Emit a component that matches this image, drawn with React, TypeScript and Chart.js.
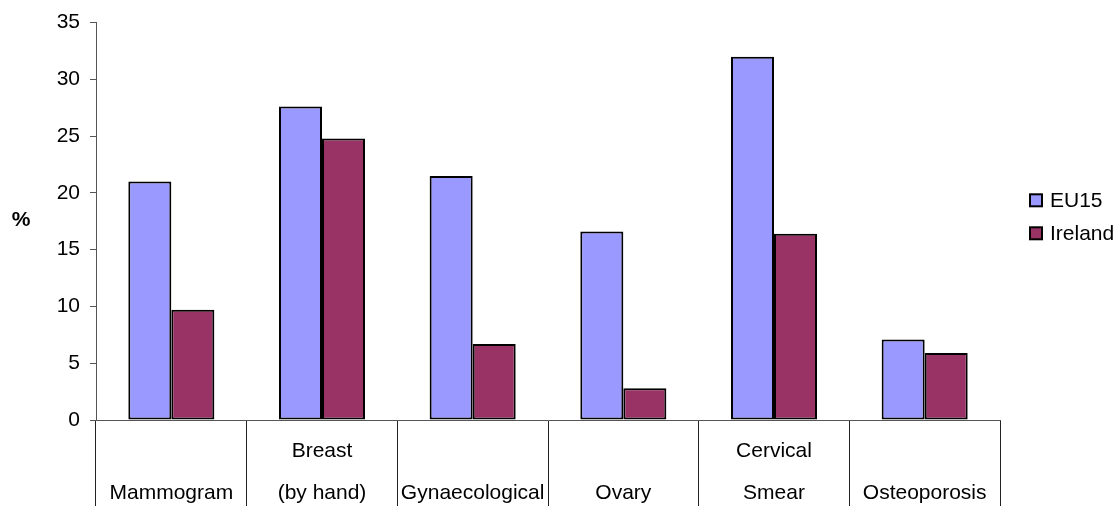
import React, { useEffect, useRef } from 'react';
import { Chart, registerables } from 'chart.js';

Chart.register(...registerables);

const categories: string[][] = [
  ['', 'Mammogram'],
  ['Breast', '(by hand)'],
  ['', 'Gynaecological'],
  ['', 'Ovary'],
  ['Cervical', 'Smear'],
  ['', 'Osteoporosis'],
];
const seriesNames = ['EU15', 'Ireland'];
const eu15Values = [21, 27.6, 21.5, 16.6, 32, 7.1];
const irelandValues = [9.7, 24.8, 6.7, 2.8, 16.4, 5.9];
const yMin = 0;
const yMax = 35;
const yStep = 5;
const yAxisTitle = '%';

const FONT = "Arial, 'Liberation Sans', sans-serif";

const legendPlugin = {
  id: 'customLegend',
  afterDraw(chart: any) {
    const { ctx, chartArea } = chart;
    const x = chartArea.right + 30;
    const midY = (chartArea.top + chartArea.bottom) / 2 - 4.5;
    const n = chart.data.datasets.length;
    ctx.save();
    chart.data.datasets.forEach((ds: any, i: number) => {
      const cy = midY + (i - (n - 1) / 2) * 33;
      ctx.fillStyle = ds.backgroundColor;
      ctx.fillRect(x, cy - 6, 12, 12);
      ctx.strokeStyle = '#000';
      ctx.lineWidth = 2;
      ctx.strokeRect(x, cy - 6, 12, 12);
      ctx.fillStyle = '#000';
      ctx.font = `21px ${FONT}`;
      ctx.textBaseline = 'middle';
      ctx.textAlign = 'left';
      ctx.fillText(ds.label, x + 20, cy + 1);
    });
    ctx.restore();
  },
};

const yTitlePlugin = {
  id: 'yTitle',
  afterDraw(chart: any) {
    const { ctx, chartArea } = chart;
    ctx.save();
    ctx.font = `bold 21px ${FONT}`;
    ctx.fillStyle = '#000';
    ctx.textAlign = 'center';
    ctx.textBaseline = 'middle';
    ctx.fillText(yAxisTitle, 21, (chartArea.top + chartArea.bottom) / 2 - 1);
    ctx.restore();
  },
};

export default function App() {
  const canvasRef = useRef<HTMLCanvasElement | null>(null);

  useEffect(() => {
    if (!canvasRef.current) return;
    const chart = new Chart(canvasRef.current, {
      type: 'bar',
      data: {
        labels: categories,
        datasets: [
          {
            label: seriesNames[0],
            data: eu15Values,
            backgroundColor: '#9999FF',
            borderColor: '#000',
            borderWidth: 2,
            borderSkipped: false,
          },
          {
            label: seriesNames[1],
            data: irelandValues,
            backgroundColor: '#993366',
            borderColor: '#000',
            borderWidth: 2,
            borderSkipped: false,
          },
        ],
      },
      options: {
        animation: false,
        responsive: true,
        maintainAspectRatio: false,
        datasets: { bar: { categoryPercentage: 0.571, barPercentage: 1 } },
        layout: { padding: { left: 0, right: 117, top: 20, bottom: 0 } },
        plugins: { legend: { display: false }, tooltip: { enabled: false } },
        scales: {
          x: {
            offset: true,
            afterFit: (scale: any) => {
              scale.height = 86;
            },
            grid: {
              offset: true,
              drawOnChartArea: false,
              drawTicks: true,
              tickLength: 86,
              color: (ctx: any) => (ctx.index === categories.length ? 'rgba(0,0,0,0)' : '#222'),
              lineWidth: 1,
            },
            border: { display: true, color: '#555', width: 1 },
            ticks: {
              color: '#000',
              font: { family: FONT, size: 21, lineHeight: 2.0 },
              padding: -76,
              autoSkip: false,
              maxRotation: 0,
              minRotation: 0,
            },
          },
          y: {
            min: yMin,
            max: yMax,
            afterFit: (scale: any) => {
              scale.width = 96;
            },
            grid: {
              drawOnChartArea: false,
              drawTicks: true,
              tickLength: 6,
              color: '#555',
            },
            border: { display: true, color: '#555', width: 1 },
            ticks: {
              stepSize: yStep,
              color: '#000',
              font: { family: FONT, size: 21 },
              padding: 10,
            },
          },
        },
      },
      plugins: [legendPlugin, yTitlePlugin],
    });
    return () => chart.destroy();
  }, []);

  return (
    <div style={{ position: 'fixed', left: 0, top: 0, width: 1117, height: 506, background: '#fff' }}>
      <canvas ref={canvasRef} />
    </div>
  );
}
